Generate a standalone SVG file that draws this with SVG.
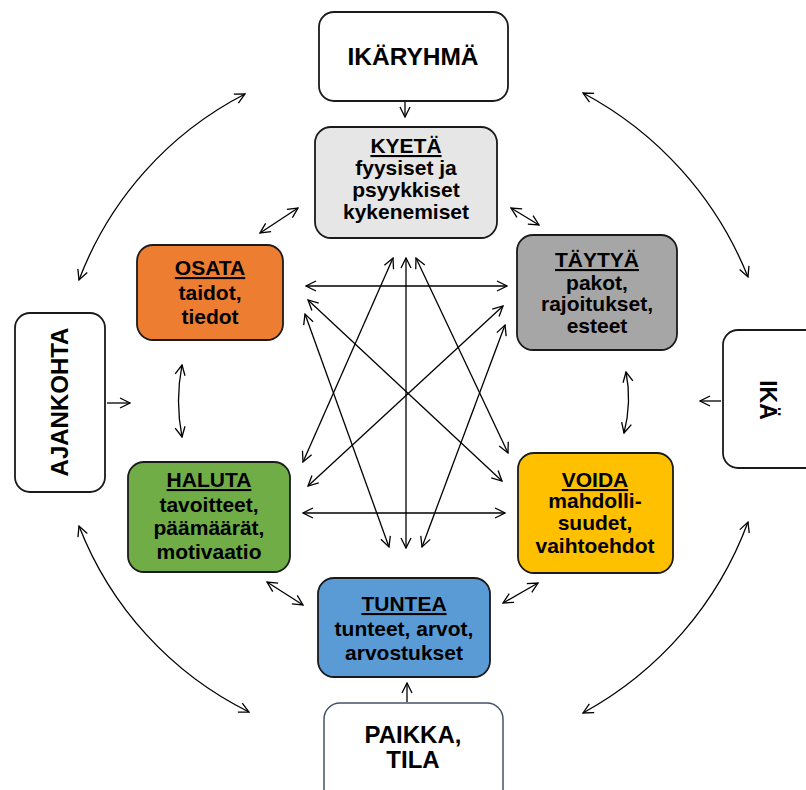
<svg xmlns="http://www.w3.org/2000/svg" width="806" height="790" viewBox="0 0 806 790">
<defs>
<style>
.n{stroke:#1a1a1a;stroke-width:1.8}
.t{font-family:"Liberation Sans",Arial,sans-serif;font-weight:bold;fill:#000;text-anchor:middle}
.c{fill:none;stroke:#000;stroke-width:1.3;marker-start:url(#a);marker-end:url(#a)}
.s{fill:none;stroke:#000;stroke-width:1.3;marker-end:url(#a)}
</style>
<marker id="a" viewBox="0 0 12 12" refX="11" refY="6" markerWidth="12" markerHeight="12" markerUnits="userSpaceOnUse" orient="auto-start-reverse">
<path d="M1,1 L11,6 L1,11" fill="none" stroke="#000" stroke-width="1.3"/>
</marker>
</defs>
<rect width="806" height="790" fill="#fff"/>

<g id="connectors">
<path class="c" d="M79,280 A347,347 0 0 1 245,94"/>
<path class="c" d="M583,93 A360,360 0 0 1 748,277"/>
<path class="c" d="M748,522 A360,360 0 0 1 583,713"/>
<path class="c" d="M249,712 A348,348 0 0 1 79,526"/>
<path class="s" d="M405,102 L405,117"/>
<path class="s" d="M107,403 L130,403"/>
<path class="s" d="M721,401 L700,401"/>
<path class="s" d="M407,702 L407,683"/>
<path class="c" d="M260,233 L298,208"/>
<path class="c" d="M511,208 L539,225"/>
<path class="c" d="M182,365 Q175,401 182,437"/>
<path class="c" d="M626,372 Q632,402 624,433"/>
<path class="c" d="M267,582 L303,605"/>
<path class="c" d="M503,603 L538,583"/>
<path class="c" d="M306,286 L507,286"/>
<path class="c" d="M303,513 L505,513"/>
<path class="c" d="M406,258 L406,548"/>
<path class="c" d="M393,258 L303,462"/>
<path class="c" d="M416,258 L508,453"/>
<path class="c" d="M308,300 L502,481"/>
<path class="c" d="M305,314 L389,547"/>
<path class="c" d="M503,306 L308,486"/>
<path class="c" d="M505,325 L422,547"/>
</g>

<g id="ikaryhma">
<rect class="n" x="319" y="12" width="189" height="89" rx="15" fill="#fff"/>
<text class="t" x="413" y="65" font-size="24.5">IKÄRYHMÄ</text>
</g>

<g id="kyeta">
<rect class="n" x="315" y="127" width="182" height="111" rx="16" fill="#e6e6e6"/>
<text class="t" font-size="21"><tspan x="406" y="153" text-decoration="underline">KYETÄ</tspan><tspan x="406" y="175">fyysiset ja</tspan><tspan x="406" y="197">psyykkiset</tspan><tspan x="406" y="219">kykenemiset</tspan></text>
</g>

<g id="osata">
<rect class="n" x="137" y="245" width="146" height="95" rx="16" fill="#ed7d31"/>
<text class="t" font-size="21"><tspan x="210" y="275" text-decoration="underline">OSATA</tspan><tspan x="210" y="300">taidot,</tspan><tspan x="210" y="324">tiedot</tspan></text>
</g>

<g id="taytya">
<rect class="n" x="517" y="235" width="160" height="115" rx="16" fill="#a6a6a6"/>
<text class="t" font-size="21"><tspan x="597" y="267" text-decoration="underline">TÄYTYÄ</tspan><tspan x="597" y="290">pakot,</tspan><tspan x="597" y="311">rajoitukset,</tspan><tspan x="597" y="333">esteet</tspan></text>
</g>

<g id="ajankohta">
<rect class="n" x="15" y="313" width="90" height="179" rx="15" fill="#fff"/>
<text class="t" font-size="24" x="68" y="402" transform="rotate(-90 68 402)">AJANKOHTA</text>
</g>

<g id="ika">
<rect class="n" x="723" y="330" width="110" height="138" rx="15" fill="#fff"/>
<text class="t" font-size="23" x="760" y="400" transform="rotate(90 760 400)">IKÄ</text>
</g>

<g id="haluta">
<rect class="n" x="128" y="462" width="162" height="110" rx="16" fill="#70ad47"/>
<text class="t" font-size="21"><tspan x="209" y="487" text-decoration="underline">HALUTA</tspan><tspan x="209" y="512">tavoitteet,</tspan><tspan x="209" y="535">päämäärät,</tspan><tspan x="209" y="559">motivaatio</tspan></text>
</g>

<g id="voida">
<rect class="n" x="518" y="453" width="155" height="120" rx="16" fill="#ffc000"/>
<text class="t" font-size="21"><tspan x="595" y="487" text-decoration="underline">VOIDA</tspan><tspan x="595" y="508">mahdolli-</tspan><tspan x="595" y="530">suudet,</tspan><tspan x="595" y="553">vaihtoehdot</tspan></text>
</g>

<g id="tuntea">
<rect class="n" x="318" y="578" width="172" height="99" rx="16" fill="#5b9bd5"/>
<text class="t" font-size="21"><tspan x="404" y="611" text-decoration="underline">TUNTEA</tspan><tspan x="404" y="636">tunteet, arvot,</tspan><tspan x="404" y="660">arvostukset</tspan></text>
</g>

<g id="paikka">
<rect x="324" y="703" width="179" height="120" rx="16" fill="#fff" stroke="#44546a" stroke-width="1.5"/>
<text class="t" font-size="24"><tspan x="413" y="743">PAIKKA,</tspan><tspan x="413" y="768">TILA</tspan></text>
</g>
</svg>
